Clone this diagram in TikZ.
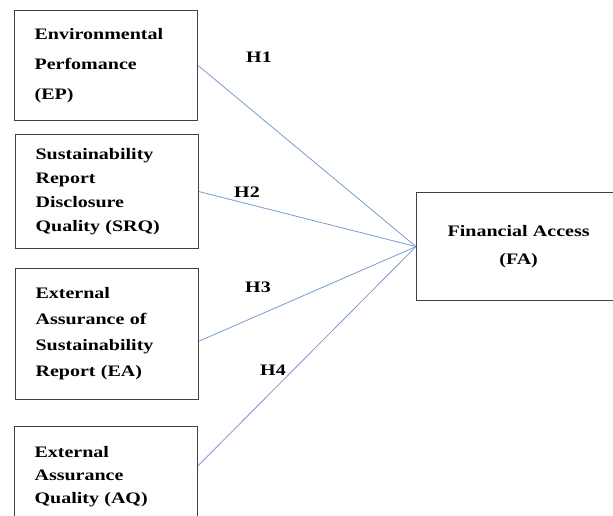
\documentclass[tikz,border=0pt]{standalone}
\usepackage{fontspec}
\setmainfont{Liberation Serif}[FakeStretch=1.25]
\usepackage{tikz}

\definecolor{linkblue}{RGB}{120,155,205}
\tikzset{
  box/.style={draw=black!75, line width=1.2pt, align=left, text width=143pt,
    inner xsep=20pt, inner ysep=0pt, anchor=north west},
  hyp/.style={draw=linkblue, line width=0.8pt},
  hlab/.style={font=\bfseries\fontsize{16}{18}\selectfont}
}

\begin{document}
\begin{tikzpicture}[x=1pt,y=-1pt]
\useasboundingbox (0,0) rectangle (613,516);
% independent variables
\node[box, minimum height=110pt, font=\bfseries\fontsize{16}{30}\selectfont] (ep) at (14,10) {Environmental\\Perfomance\\(EP)};
\node[box, minimum height=114pt, font=\bfseries\fontsize{16}{24}\selectfont] (srq) at (15,134) {Sustainability\\Report\\Disclosure\\Quality (SRQ)};
\node[box, minimum height=131pt, font=\bfseries\fontsize{16}{26}\selectfont] (ea) at (15,268) {External\\Assurance of\\Sustainability\\Report (EA)};
\node[box, minimum height=100pt, font=\bfseries\fontsize{16}{23}\selectfont] (aq) at (14,426) {External\\Assurance\\Quality (AQ)};
% dependent variable
\node[box, align=center, text width=164pt, minimum height=108pt, font=\bfseries\fontsize{16}{28}\selectfont] (fa) at (416,192) {Financial Access\\(FA)};
% hypotheses
\draw[hyp] (ep.east) -- (fa.west);
\draw[hyp] (srq.east) -- (fa.west);
\draw[hyp] ([yshift=-7pt]ea.east) -- (fa.west);
\draw[hyp] ([yshift=11pt]aq.east) -- (fa.west);
\node[hlab] (h1) at (259,57) {H1};
\node[hlab] (h2) at (247,192) {H2};
\node[hlab] (h3) at (258,287) {H3};
\node[hlab] (h4) at (273,370) {H4};
\end{tikzpicture}
\end{document}
